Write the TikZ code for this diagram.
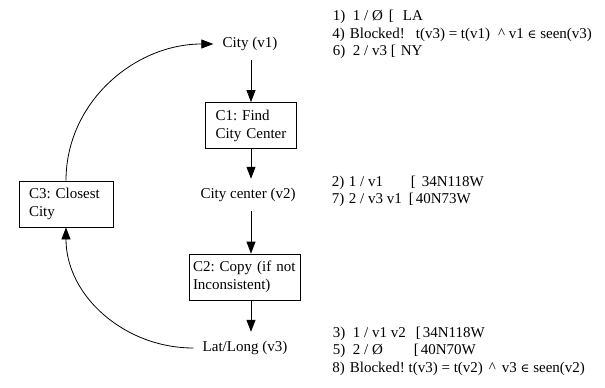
\documentclass[tikz,border=0pt]{standalone}
\usepackage{fontspec}
\setmainfont{Liberation Serif}
\newfontfamily\symfnt{DejaVu Serif}
\usetikzlibrary{arrows.meta}
\newcommand\putat[2]{\makebox[0pt][l]{\hspace*{#1pt}#2}}
\newcommand\elem{{\symfnt\fontsize{12}{14}\selectfont ∈}}
\frenchspacing
\begin{document}
\begin{tikzpicture}[x=1pt,y=-1pt,
  font=\fontsize{15}{18}\selectfont,
  every path/.style={line width=0.8pt},
  arr/.style={-{Triangle[length=12pt,width=9pt]}},
  lbl/.style={inner xsep=9pt,inner ysep=9pt},
  cbox/.style={draw,align=left,inner xsep=10pt,inner ysep=3pt,minimum height=46pt},
  note/.style={anchor=base west,inner sep=0pt}]
\useasboundingbox (0,0) rectangle (605,388);
% flow nodes
\node[lbl] (v1) at (250,44) {City (v1)};
\node[cbox,text width=71pt] (c1) at (251,125.5) {C1: Find\\City Center};
\node[lbl] (v2) at (248,195) {City center (v2)};
\node[cbox,inner xsep=4pt,text width=103pt] (c2) at (244.5,277) {C2: Copy (if not\\Inconsistent)};
\node[lbl] (v3) at (245,348) {Lat/Long (v3)};
\node[cbox,text width=74pt] (c3) at (66,204) {C3: Closest\\City};
\coordinate (ax) at (251,0);
% connectors
\draw[arr] (ax |- v1.south) -- (ax |- c1.north);
\draw[arr] (ax |- c1.south) -- (ax |- v2.north);
\draw[arr] (ax |- v2.south) -- (ax |- c2.north);
\draw[arr] (ax |- c2.south) -- (ax |- v3.north);
\draw[arr] (c3.north) to[out=90,in=180] (v1.west);
\draw[arr] (v3.west) to[out=180,in=-90] (c3.south);
% annotations
\node[note] (n1) at (332,20) {\putat{0}{1)}\putat{20}{1 / Ø}\putat{56}{[}\putat{70}{LA}};
\node[note] (n4) at (332,38) {4)\hspace{5pt}Blocked!\hspace{11pt}t(v3) = t(v1)\hspace{8pt}\textasciicircum\ v1 \elem\ seen(v3)};
\node[note] (n6) at (332,55) {\putat{0}{6)}\putat{20}{2 / v3 [}\putat{68}{NY}};
\node[note] (n2) at (331,186) {\putat{0}{2)}\putat{17}{1 / v1}\putat{79}{[}\putat{90}{34N118W}};
\node[note] (n7) at (331,203) {\putat{0}{7)}\putat{17}{2 / v3 v1}\putat{77}{[}\putat{84}{40N73W}};
\node[note] (n3) at (332,337) {\putat{0}{3)}\putat{20}{1 / v1 v2}\putat{83}{[}\putat{90}{34N118W}};
\node[note] (n5) at (332,354) {\putat{0}{5)}\putat{20}{2 / Ø}\putat{81}{[}\putat{88}{40N70W}};
\node[note] (n8) at (332,372) {8)\hspace{5pt}Blocked! t(v3) = t(v2)\hspace{6pt}\textasciicircum\hspace{6pt}v3 \elem\ seen(v2)};
\end{tikzpicture}
\end{document}
